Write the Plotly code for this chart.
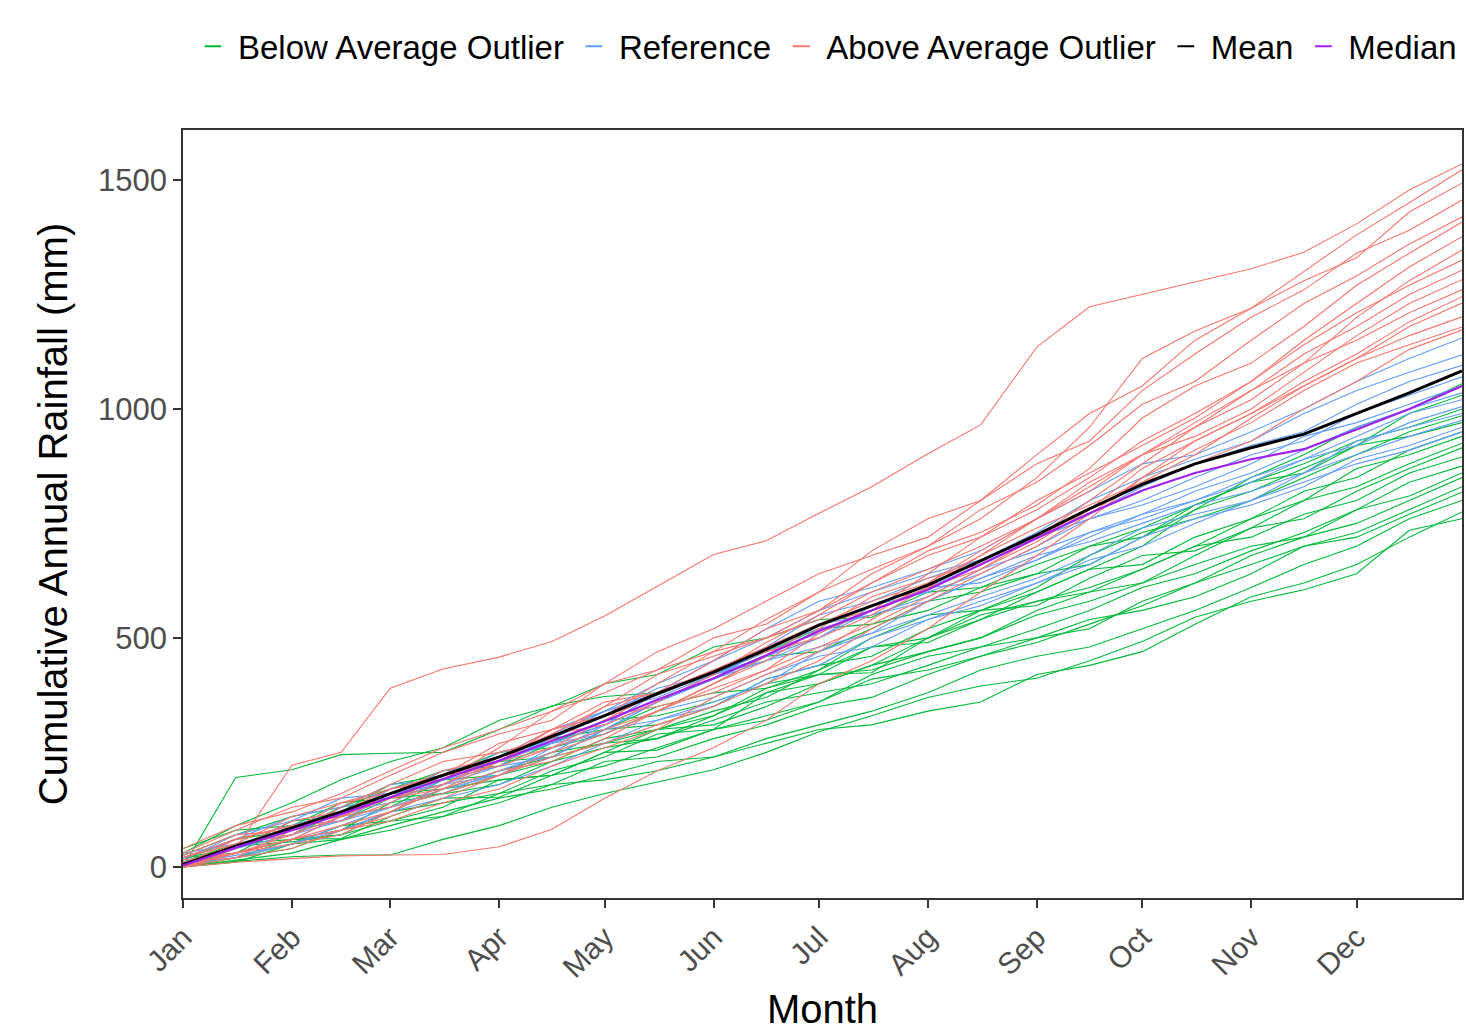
import plotly.graph_objects as go

# ---------------- data ----------------
DATES = ['2001-01-01', '2001-01-16', '2001-02-01', '2001-02-15', '2001-03-01', '2001-03-16',
         '2001-04-01', '2001-04-16', '2001-05-01', '2001-05-16', '2001-06-01', '2001-06-16',
         '2001-07-01', '2001-07-16', '2001-08-01', '2001-08-16', '2001-09-01', '2001-09-16',
         '2001-10-01', '2001-10-16', '2001-11-01', '2001-11-16', '2001-12-01', '2001-12-16',
         '2001-12-31']

MONTH_TICKS = ['2001-01-01', '2001-02-01', '2001-03-01', '2001-04-01', '2001-05-01', '2001-06-01',
               '2001-07-01', '2001-08-01', '2001-09-01', '2001-10-01', '2001-11-01', '2001-12-01']
MONTH_LABELS = ['Jan', 'Feb', 'Mar', 'Apr', 'May', 'Jun', 'Jul', 'Aug', 'Sep', 'Oct', 'Nov', 'Dec']

BELOW_AVG = [
    [0, 20, 60, 62, 110, 150, 152, 200, 250, 255, 300, 380, 420, 424, 500, 560, 600, 650, 700, 780, 850, 900, 960, 1000, 1055],
    [30, 90, 140, 190, 230, 260, 320, 350, 400, 420, 480, 500, 540, 545, 600, 610, 660, 700, 720, 780, 820, 870, 920, 990, 1030],
    [0, 195, 212, 245, 248, 250, 300, 352, 372, 380, 420, 470, 520, 530, 560, 610, 640, 700, 740, 790, 840, 880, 930, 960, 1000],
    [10, 50, 70, 120, 160, 170, 210, 240, 300, 350, 380, 390, 430, 500, 550, 560, 610, 680, 730, 760, 800, 850, 900, 950, 985],
    [20, 30, 90, 140, 150, 200, 250, 260, 290, 340, 400, 460, 470, 520, 580, 600, 640, 660, 720, 790, 840, 860, 920, 940, 970],
    [0, 40, 100, 110, 130, 190, 200, 230, 280, 300, 340, 370, 430, 480, 490, 540, 600, 650, 660, 720, 760, 820, 850, 910, 950],
    [5, 20, 40, 80, 140, 160, 180, 230, 260, 280, 330, 380, 400, 440, 500, 550, 580, 600, 650, 700, 760, 800, 870, 900, 940],
    [15, 60, 80, 100, 150, 180, 240, 280, 300, 310, 350, 410, 440, 460, 520, 560, 570, 630, 680, 690, 740, 800, 830, 880, 925],
    [0, 10, 50, 90, 100, 130, 190, 200, 250, 300, 310, 350, 400, 440, 470, 500, 560, 600, 620, 680, 740, 760, 820, 870, 915],
    [25, 70, 110, 130, 170, 210, 220, 270, 320, 330, 360, 400, 420, 480, 500, 540, 580, 610, 650, 700, 720, 770, 800, 860, 895],
    [5, 30, 60, 70, 120, 140, 160, 210, 240, 290, 300, 330, 360, 420, 460, 480, 520, 560, 610, 640, 690, 730, 780, 840, 875],
    [40, 80, 90, 120, 180, 200, 230, 240, 270, 300, 330, 390, 420, 430, 470, 500, 550, 580, 620, 660, 700, 720, 780, 810, 860],
    [0, 15, 30, 60, 80, 110, 140, 180, 230, 240, 280, 310, 350, 370, 420, 460, 490, 530, 570, 620, 680, 720, 750, 800, 850],
    [10, 50, 60, 80, 120, 170, 190, 200, 220, 260, 300, 320, 360, 410, 430, 460, 500, 540, 560, 590, 640, 700, 730, 780, 830],
    [20, 40, 80, 130, 150, 160, 200, 250, 270, 280, 320, 360, 380, 400, 440, 480, 500, 520, 580, 620, 660, 700, 720, 770, 818],
    [0, 20, 50, 60, 90, 120, 150, 170, 200, 230, 240, 280, 310, 340, 380, 430, 460, 480, 520, 560, 610, 660, 700, 760, 800],
    [5, 45, 55, 70, 100, 110, 160, 180, 190, 210, 240, 270, 300, 310, 340, 360, 420, 440, 470, 530, 590, 620, 660, 720, 775],
    [0, 12, 22, 26, 26, 60, 90, 130, 160, 185, 212, 250, 295, 330, 370, 395, 412, 450, 492, 545, 580, 605, 640, 735, 760],
]

REFERENCE = [
    [10, 40, 90, 120, 150, 210, 230, 280, 340, 400, 450, 520, 580, 610, 650, 690, 760, 820, 880, 900, 950, 1000, 1060, 1110, 1155],
    [0, 50, 70, 100, 160, 180, 240, 270, 310, 380, 450, 500, 560, 600, 640, 670, 730, 800, 850, 890, 930, 990, 1040, 1080, 1118],
    [20, 60, 110, 130, 180, 190, 220, 290, 340, 370, 420, 480, 550, 580, 630, 670, 720, 770, 830, 880, 920, 950, 1010, 1060, 1095],
    [5, 20, 50, 90, 130, 170, 200, 240, 300, 360, 420, 470, 510, 560, 610, 660, 720, 760, 800, 850, 900, 930, 990, 1030, 1070],
    [15, 70, 100, 120, 140, 190, 250, 280, 330, 390, 420, 450, 500, 570, 600, 640, 700, 760, 790, 830, 880, 940, 970, 1010, 1050],
    [0, 30, 60, 110, 170, 200, 230, 270, 310, 360, 410, 460, 530, 550, 590, 650, 690, 730, 770, 820, 860, 910, 960, 1000, 1035],
    [30, 50, 80, 100, 130, 160, 210, 250, 310, 360, 410, 450, 480, 510, 580, 630, 670, 720, 770, 800, 840, 890, 940, 990, 1020],
    [5, 40, 100, 150, 160, 200, 240, 300, 340, 380, 420, 460, 500, 560, 610, 620, 670, 730, 760, 800, 850, 890, 920, 970, 1005],
    [10, 30, 60, 80, 120, 180, 220, 240, 300, 360, 410, 480, 520, 550, 580, 630, 680, 710, 750, 790, 820, 860, 930, 960, 990],
    [0, 40, 70, 130, 150, 180, 200, 260, 300, 320, 360, 400, 470, 510, 550, 590, 630, 680, 740, 770, 800, 860, 900, 940, 975],
    [20, 60, 90, 100, 160, 190, 240, 270, 290, 340, 370, 420, 460, 480, 540, 580, 620, 660, 720, 760, 790, 830, 890, 920, 960],
    [5, 25, 50, 80, 120, 150, 180, 220, 270, 320, 350, 410, 440, 500, 540, 570, 620, 670, 700, 750, 800, 840, 880, 910, 950],
]

ABOVE_AVG = [
    [0, 40, 222, 250, 390, 432, 458, 492, 548, 612, 682, 712, 772, 830, 902, 965, 1135, 1223, 1250, 1276, 1306, 1342, 1404, 1478, 1535],
    [10, 30, 60, 110, 150, 170, 230, 300, 360, 380, 450, 520, 560, 640, 700, 760, 850, 960, 1110, 1170, 1220, 1300, 1380, 1450, 1522],
    [30, 80, 130, 150, 200, 250, 290, 320, 400, 470, 520, 580, 640, 680, 720, 800, 900, 990, 1050, 1150, 1220, 1280, 1330, 1430, 1493],
    [0, 20, 80, 140, 170, 190, 260, 340, 380, 430, 500, 530, 600, 690, 760, 800, 880, 930, 1040, 1120, 1200, 1260, 1340, 1390, 1456],
    [20, 60, 90, 100, 140, 200, 270, 300, 330, 400, 470, 540, 600, 650, 700, 780, 840, 920, 1010, 1060, 1150, 1230, 1290, 1360, 1419],
    [5, 50, 70, 130, 180, 230, 250, 280, 350, 420, 460, 500, 560, 620, 690, 730, 790, 870, 980, 1050, 1100, 1180, 1270, 1340, 1408],
    [0, 30, 50, 70, 120, 180, 230, 290, 350, 380, 430, 480, 530, 560, 640, 720, 800, 860, 920, 980, 1060, 1150, 1230, 1310, 1376],
    [40, 90, 120, 160, 210, 260, 300, 340, 400, 430, 470, 500, 540, 600, 650, 700, 760, 840, 900, 960, 1020, 1100, 1200, 1280, 1347],
    [0, 10, 18, 24, 26, 27, 44, 82, 150, 210, 260, 320, 400, 450, 520, 600, 680, 760, 850, 930, 990, 1050, 1110, 1160, 1201],
    [10, 30, 70, 110, 130, 160, 200, 250, 290, 340, 400, 450, 520, 590, 630, 660, 720, 800, 880, 960, 1040, 1120, 1180, 1250, 1303],
    [25, 70, 80, 120, 170, 200, 220, 260, 320, 380, 430, 470, 500, 550, 620, 690, 760, 820, 900, 940, 1000, 1080, 1160, 1230, 1282],
    [0, 40, 100, 120, 150, 180, 240, 300, 330, 350, 380, 430, 510, 560, 610, 650, 710, 780, 870, 930, 990, 1060, 1120, 1190, 1245],
    [15, 30, 60, 90, 120, 170, 210, 230, 280, 340, 400, 460, 530, 580, 620, 680, 740, 790, 840, 900, 980, 1050, 1110, 1180, 1231],
    [5, 60, 90, 110, 160, 210, 240, 290, 310, 360, 420, 490, 550, 620, 680, 720, 780, 850, 930, 990, 1060, 1140, 1210, 1270, 1325],
    [10, 20, 40, 80, 110, 150, 200, 240, 270, 310, 350, 400, 450, 520, 580, 640, 700, 770, 850, 910, 970, 1040, 1100, 1140, 1179],
    [20, 50, 110, 140, 160, 200, 230, 260, 300, 340, 390, 430, 480, 530, 590, 650, 720, 780, 840, 880, 930, 1000, 1060, 1130, 1172],
    [0, 30, 60, 80, 100, 140, 170, 220, 260, 300, 370, 420, 470, 540, 610, 680, 760, 830, 900, 970, 1040, 1100, 1150, 1210, 1260],
]

MEAN = [5, 45, 85, 120, 160, 200, 240, 285, 330, 378, 425, 475, 528, 570, 615, 668, 725, 782, 835, 880, 915, 945, 990, 1035, 1083]
MEDIAN = [3, 42, 80, 115, 152, 192, 232, 275, 318, 365, 412, 462, 515, 560, 605, 660, 718, 772, 822, 860, 890, 912, 955, 1000, 1050]

Y_TICKS = [0, 500, 1000, 1500]

# ---------------- styling ----------------
FONT = 'Liberation Sans, Arial, Helvetica, sans-serif'
COLORS = {
    'Below Average Outlier': '#00BA38',
    'Reference': '#619CFF',
    'Above Average Outlier': '#F8766D',
    'Mean': '#000000',
    'Median': '#A020F0',
}

fig = go.Figure()

groups = [('Below Average Outlier', BELOW_AVG), ('Reference', REFERENCE), ('Above Average Outlier', ABOVE_AVG)]
for name, series in groups:
    for vals in series:
        fig.add_trace(go.Scatter(
            x=DATES, y=vals, mode='lines',
            line=dict(color=COLORS[name], width=1.1),
            showlegend=False, hoverinfo='skip'))

fig.add_trace(go.Scatter(x=DATES, y=MEAN, mode='lines',
                         line=dict(color=COLORS['Mean'], width=3), showlegend=False))
fig.add_trace(go.Scatter(x=DATES, y=MEDIAN, mode='lines',
                         line=dict(color=COLORS['Median'], width=2.2), showlegend=False))

# legend entries (short dash keys)
for name in ['Below Average Outlier', 'Reference', 'Above Average Outlier', 'Mean', 'Median']:
    fig.add_trace(go.Scatter(
        x=[None], y=[None], mode='markers', name=name,
        marker=dict(symbol='line-ew-open', size=15, color=COLORS[name],
                    line=dict(color=COLORS[name], width=3))))

fig.update_layout(
    width=1466, height=1034,
    paper_bgcolor='white', plot_bgcolor='white',
    margin=dict(l=183, r=2, t=130, b=136),
    font=dict(family=FONT, color='black'),
    legend=dict(orientation='h', x=1.0, xanchor='right', y=1.109, yanchor='middle',
                font=dict(size=33, family=FONT, color='black'),
                itemsizing='constant', itemwidth=40, tracegroupgap=0),
)

fig.update_xaxes(
    type='date', range=['2001-01-01', '2001-12-31'],
    tickmode='array', tickvals=MONTH_TICKS, ticktext=MONTH_LABELS,
    tickangle=-45, tickfont=dict(size=30, color='#4D4D4D', family=FONT),
    ticks='outside', ticklen=8, tickwidth=1.5, tickcolor='#333333',
    showline=True, linecolor='#333333', linewidth=1.5, mirror=True,
    showgrid=False, zeroline=False,
    title=dict(text='Month', font=dict(size=40, color='black', family=FONT), standoff=12),
)
fig.update_yaxes(
    range=[-68, 1609],
    tickmode='array', tickvals=Y_TICKS,
    tickfont=dict(size=31, color='#4D4D4D', family=FONT),
    ticks='outside', ticklen=8, tickwidth=1.5, tickcolor='#333333',
    showline=True, linecolor='#333333', linewidth=1.5, mirror=True,
    showgrid=False, zeroline=False,
    title=dict(text='Cumulative Annual Rainfall (mm)', font=dict(size=40, color='black', family=FONT), standoff=18),
)

fig.write_html('out.html')
